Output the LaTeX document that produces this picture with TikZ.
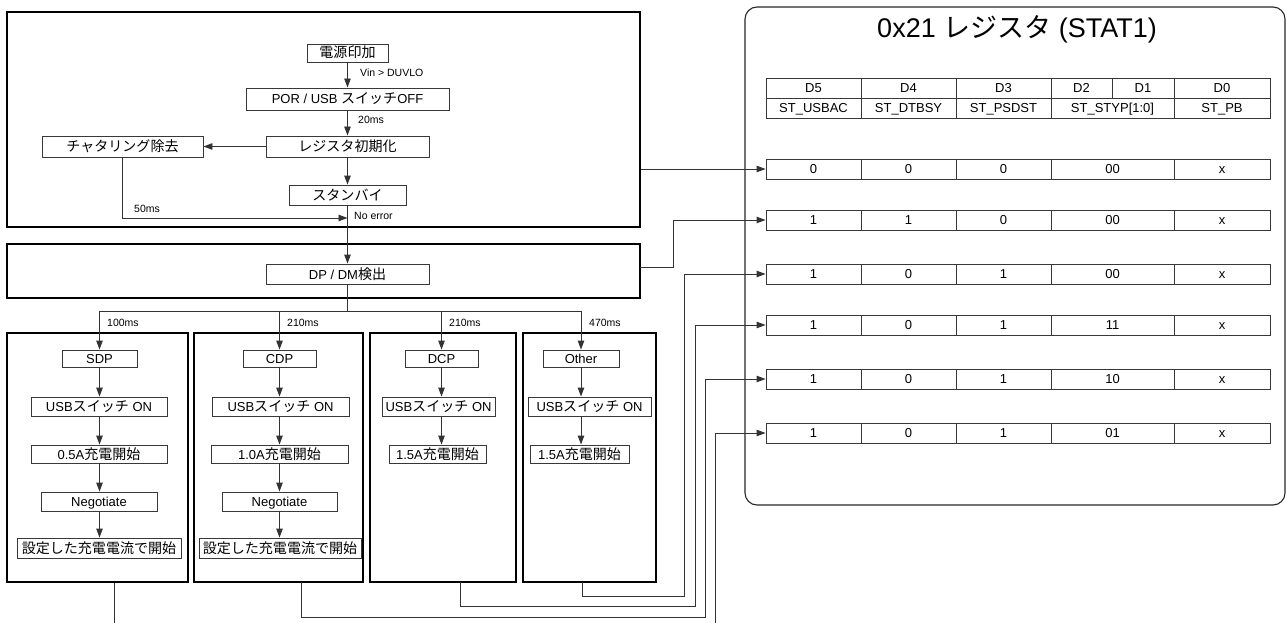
\documentclass[tikz,border=0pt]{standalone}
\usepackage{fontspec}
\setmainfont{Liberation Sans}
\newfontfamily\jp[Scale=1.08]{Noto Sans CJK JP}
\newfontfamily\jpn{Noto Sans CJK JP}
\usetikzlibrary{arrows.meta}

\tikzset{
  frame/.style={draw=black, line width=2.6pt, inner sep=0pt},
  regframe/.style={draw=black!85, line width=1.1pt, rounded corners=12pt, inner sep=0pt},
  ibox/.style={draw=black!78, line width=0.9pt, inner sep=0pt, font=\fontsize{13}{15}\selectfont, text height=10.5pt, text depth=0.5pt, align=center},
  cell/.style={draw=black!78, line width=0.9pt, inner sep=0pt, font=\fontsize{13}{15}\selectfont, text height=10.2pt, text depth=0.5pt},
  lbl/.style={font=\fontsize{10.5}{12}\selectfont, inner sep=0pt, anchor=west},
  conn/.style={draw=black!80, line width=0.9pt},
  arr/.style={conn, -{Triangle[length=9pt,width=6.5pt]}},
}

% #1 style, #2 name, #3 x1, #4 y1, #5 x2, #6 y2, #7 text
\newcommand\rbox[7][ibox]{\node[#1, minimum width={(#5)-(#3)}, minimum height={(#6)-(#4)}] (#2) at ({((#3)+(#5))/2},{((#4)+(#6))/2}) {#7};}
% #1 prefix, #2 top y, #3..#7 values
\newcommand\regrow[7]{%
  \rbox[cell]{#1a}{766}{#2}{861}{#2+20}{#3}
  \rbox[cell]{#1b}{861}{#2}{956}{#2+20}{#4}
  \rbox[cell]{#1c}{956}{#2}{1051}{#2+20}{#5}
  \rbox[cell]{#1d}{1051}{#2}{1174}{#2+20}{#6}
  \rbox[cell]{#1e}{1174}{#2}{1270}{#2+20}{#7}}

\begin{document}
\begin{tikzpicture}[x=1pt,y=-1pt]
\useasboundingbox (0,0) rectangle (1287,623);

% frames
\rbox[frame]{F1}{7}{12}{640}{227}{}
\rbox[frame]{F2}{7}{244}{640}{298}{}
\rbox[frame]{C1}{7}{333}{188}{582}{}
\rbox[frame]{C2}{194}{333}{363}{582}{}
\rbox[frame]{C3}{370}{333}{516}{582}{}
\rbox[frame]{C4}{523}{333}{656}{582}{}
\rbox[regframe]{R}{745}{7}{1285}{505}{}

% top flow
\rbox{pwr}{307}{44}{388}{62}{{\jp 電源印加}}
\rbox{por}{246}{88}{449}{110}{POR / USB {\jp スイッチ}OFF}
\rbox{rinit}{266}{136}{429}{157}{{\jp レジスタ初期化}}
\rbox{chat}{42}{136}{203}{157}{{\jp チャタリング除去}}
\rbox{stby}{289}{185}{406}{205}{{\jp スタンバイ}}
\rbox{ddm}{266}{264}{429}{284}{DP / DM{\jp 検出}}

\node[lbl] (vin) at (360,73) {Vin > DUVLO};
\node[lbl] (t20) at (358,120) {20ms};
\node[lbl] (t50) at (134,209) {50ms};
\node[lbl] (noerr) at (354,216) {No error};

\draw[arr] (pwr.south) -- (pwr.south |- por.north);
\draw[arr] (por.south) -- (por.south |- rinit.north);
\draw[arr] (rinit.west) -- (chat.east);
\draw[arr] (rinit.south) -- (rinit.south |- stby.north);
\coordinate (j50) at (347.5,218);
\draw[arr] (chat.south) |- (j50);
\draw[arr] (stby.south) -- (stby.south |- ddm.north);

% column heads
\rbox{sdp}{62}{350}{137}{367}{SDP}
\rbox{cdp}{243}{350}{316}{367}{CDP}
\rbox{dcp}{405}{350}{478}{367}{DCP}
\rbox{oth}{543}{350}{619}{367}{Other}

\coordinate (br) at (347.5,311);
\draw[conn] (ddm.south) -- (br);
\draw[conn] (sdp.north |- br) -- (oth.north |- br);
\draw[arr] (sdp.north |- br) -- (sdp.north);
\draw[arr] (cdp.north |- br) -- (cdp.north);
\draw[arr] (dcp.north |- br) -- (dcp.north);
\draw[arr] (oth.north |- br) -- (oth.north);
\node[lbl] (l100) at (107,323) {100ms};
\node[lbl] (l210a) at (287,323) {210ms};
\node[lbl] (l210b) at (449,323) {210ms};
\node[lbl] (l470) at (589,323) {470ms};

% column contents
\rbox{usb1}{31}{397}{167}{416}{USB{\jp スイッチ} ON}
\rbox{usb2}{212}{397}{349}{416}{USB{\jp スイッチ} ON}
\rbox{usb3}{382}{397}{495}{416}{USB{\jp スイッチ} ON}
\rbox{usb4}{528}{397}{651}{416}{USB{\jp スイッチ} ON}

\rbox{chg1}{31}{445}{167}{463}{0.5A{\jp 充電開始}}
\rbox{chg2}{211}{445}{348}{463}{1.0A{\jp 充電開始}}
\rbox{chg3}{389}{445}{486}{463}{1.5A{\jp 充電開始}}
\rbox{chg4}{530}{445}{629}{463}{1.5A{\jp 充電開始}}

\rbox{neg1}{41}{492}{157}{511}{Negotiate}
\rbox{neg2}{222}{492}{337}{511}{Negotiate}

\rbox{set1}{17}{538}{181}{558}{{\jp 設定した充電電流で開始}}
\rbox{set2}{199}{538}{361}{558}{{\jp 設定した充電電流で開始}}

\draw[arr] (sdp.south) -- (sdp.south |- usb1.north);
\draw[arr] (sdp.south |- usb1.south) -- (sdp.south |- chg1.north);
\draw[arr] (sdp.south |- chg1.south) -- (sdp.south |- neg1.north);
\draw[arr] (sdp.south |- neg1.south) -- (sdp.south |- set1.north);

\draw[arr] (cdp.south) -- (cdp.south |- usb2.north);
\draw[arr] (cdp.south |- usb2.south) -- (cdp.south |- chg2.north);
\draw[arr] (cdp.south |- chg2.south) -- (cdp.south |- neg2.north);
\draw[arr] (cdp.south |- neg2.south) -- (cdp.south |- set2.north);

\draw[arr] (dcp.south) -- (dcp.south |- usb3.north);
\draw[arr] (dcp.south |- usb3.south) -- (dcp.south |- chg3.north);

\draw[arr] (oth.south) -- (oth.south |- usb4.north);
\draw[arr] (oth.south |- usb4.south) -- (oth.south |- chg4.north);

% register panel
\node[font=\fontsize{27}{30}\selectfont, inner sep=0pt] (title) at (1017,29) {0x21 {\jpn レジスタ} (STAT1)};

\rbox[cell]{hA}{766}{78}{861}{98}{D5}
\rbox[cell]{hB}{861}{78}{956}{98}{D4}
\rbox[cell]{hC}{956}{78}{1051}{98}{D3}
\rbox[cell]{hD}{1051}{78}{1112}{98}{D2}
\rbox[cell]{hE}{1112}{78}{1174}{98}{D1}
\rbox[cell]{hF}{1174}{78}{1270}{98}{D0}
\rbox[cell]{nA}{766}{98}{861}{118}{ST\_USBAC}
\rbox[cell]{nB}{861}{98}{956}{118}{ST\_DTBSY}
\rbox[cell]{nC}{956}{98}{1051}{118}{ST\_PSDST}
\rbox[cell]{nD}{1051}{98}{1174}{118}{ST\_STYP[1:0]}
\rbox[cell]{nE}{1174}{98}{1270}{118}{ST\_PB}

\regrow{r1}{159}{0}{0}{0}{00}{x}
\regrow{r2}{210}{1}{1}{0}{00}{x}
\regrow{r3}{264}{1}{0}{1}{00}{x}
\regrow{r4}{315}{1}{0}{1}{11}{x}
\regrow{r5}{369}{1}{0}{1}{10}{x}
\regrow{r6}{423}{1}{0}{1}{01}{x}

% connectors to register rows
\draw[arr] (F1.east |- r1a.west) -- (r1a.west);
\coordinate (f2o) at (640,267);
\draw[arr] (f2o) -- (673,267) |- (r2a.west);
\coordinate (c4o) at (582,582);
\draw[arr] (c4o) |- (684,596) |- (r3a.west);
\coordinate (c3o) at (460,582);
\draw[arr] (c3o) |- (695,606) |- (r4a.west);
\coordinate (c2o) at (301,582);
\draw[arr] (c2o) |- (705,617) |- (r5a.west);
\coordinate (e6) at (715,623);
\draw[arr] (e6) |- (r6a.west);
\coordinate (e1) at (114,623);
\draw[conn] (C1.south -| e1) -- (e1);
\end{tikzpicture}
\end{document}
